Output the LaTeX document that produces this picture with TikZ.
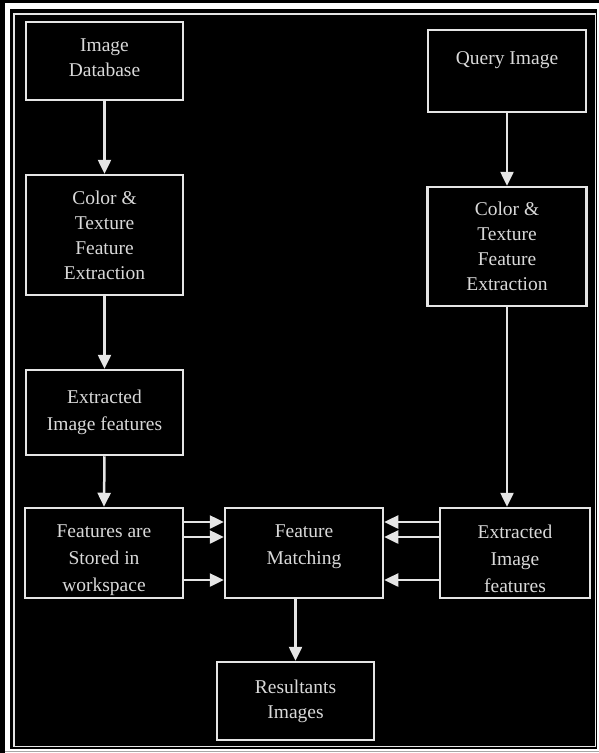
\documentclass[tikz,border=0pt]{standalone}
\usepackage{fontspec}
\setmainfont{Liberation Serif}
\usetikzlibrary{arrows.meta}
\definecolor{boxline}{gray}{0.9}
\definecolor{boxtext}{gray}{0.85}
\begin{document}
\begin{tikzpicture}[x=1pt,y=-1pt,
  blockbox/.style={draw=boxline, line width=2.5pt, fill=black, text=boxtext,
    align=center, inner sep=0pt, font=\fontsize{19.5}{25}\selectfont},
  widerows/.style={font=\fontsize{19.5}{27}\selectfont},
  flow/.style={draw=boxline, line width=2.5pt,
    -{Triangle[length=14pt,width=13pt]}, color=boxline}]
  % page frame
  \useasboundingbox (0,0) rectangle (599,753);
  \fill[white] (0,0) rectangle (599,753);
  \fill[black] (0,0) rectangle (5,753);
  \fill[black] (0,0) rectangle (599,2.5);
  \draw[gray!70, line width=1pt] (5,751.5) -- (599,751.5);
  \fill[black] (10,9) rectangle (597,749);
  \draw[boxline, line width=1.6pt] (14,14) rectangle (595.5,746.5);

  % left column
  \node[blockbox, minimum width=157pt, minimum height=78pt] (db) at (104.5,61)
    {Image\\Database\\[-19pt]\mbox{}};
  \node[blockbox, minimum width=157pt, minimum height=120pt] (cl) at (104.5,235)
    {Color \&\\Texture\\Feature\\Extraction};
  \node[blockbox, widerows, minimum width=157pt, minimum height=85pt] (el) at (104.5,412.5)
    {Extracted\\Image features\\[-23pt]\mbox{}};
  \node[blockbox, widerows, minimum width=158pt, minimum height=90pt] (fs) at (104,553)
    {\rule{0pt}{27pt}Features are\\Stored in\\workspace};

  % right column
  \node[blockbox, minimum width=158pt, minimum height=82pt] (qi) at (507,71)
    {Query Image\\\mbox{}};
  \node[blockbox, minimum width=159pt, minimum height=119pt] (cr) at (507,246.5)
    {Color \&\\Texture\\Feature\\Extraction};
  \node[blockbox, widerows, minimum width=150pt, minimum height=90pt] (er) at (515,553)
    {\rule{0pt}{25pt}Extracted\\Image\\features};

  % centre
  \node[blockbox, widerows, minimum width=158pt, minimum height=90pt] (fm) at (304,553)
    {Feature\\Matching\\[-11pt]\mbox{}};
  \node[blockbox, minimum width=157pt, minimum height=78pt] (rs) at (295.5,701)
    {Resultants\\Images};

  % vertical flow
  \draw[flow] (db.south) -- (cl.north);
  \draw[flow] (cl.south) -- (el.north);
  \draw[flow] (el.south) -- (fs.north);
  \draw[flow] (qi.south) -- (cr.north);
  \draw[flow] (cr.south) -- (cr.south |- er.north);
  \draw[flow] (rs.north |- fm.south) -- (rs.north);

  % feature links into the matcher
  \coordinate (ya) at (0,522);
  \coordinate (yb) at (0,537);
  \coordinate (yc) at (0,580);
  \draw[flow] (fs.east |- ya) -- (fm.west |- ya);
  \draw[flow] (fs.east |- yb) -- (fm.west |- yb);
  \draw[flow] (fs.east |- yc) -- (fm.west |- yc);
  \draw[flow] (er.west |- ya) -- (fm.east |- ya);
  \draw[flow] (er.west |- yb) -- (fm.east |- yb);
  \draw[flow] (er.west |- yc) -- (fm.east |- yc);
\end{tikzpicture}
\end{document}
